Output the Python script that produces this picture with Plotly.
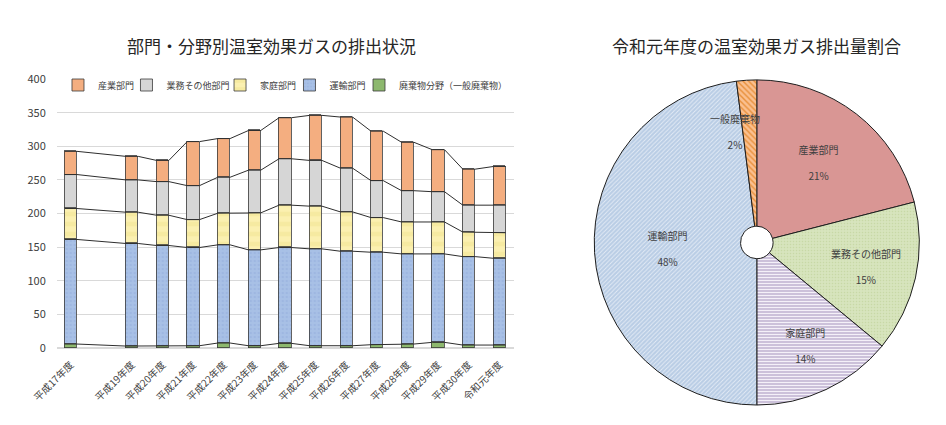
import plotly.graph_objects as go

# ---------------- data ----------------
years = ["平成17年度", "", "平成19年度", "平成20年度", "平成21年度", "平成22年度",
         "平成23年度", "平成24年度", "平成25年度", "平成26年度", "平成27年度",
         "平成28年度", "平成29年度", "平成30年度", "令和元年度"]
series_names = ["廃棄物分野（一般廃棄物）", "運輸部門", "家庭部門", "業務その他部門", "産業部門"]
waste     = [6, None, 3, 3, 3.5, 7.5, 3.5, 7, 3.5, 3.5, 5, 6, 8.5, 4.5, 4.5]
transport = [155.5, None, 152.5, 149.5, 146, 146, 142.5, 142.5, 144, 140.5, 137.5, 134, 131.5, 131.5, 129]
household = [46, None, 46.5, 45, 41.5, 47, 55, 63, 63.5, 58.5, 51.5, 47.5, 47.5, 36.5, 38]
business  = [50.5, None, 48, 50, 50.5, 53.5, 63.5, 69, 68, 65, 55, 46.5, 45, 40, 41]
industry  = [34.5, None, 35, 31.5, 65.5, 57.5, 59, 61, 67, 76, 73.5, 72, 62.5, 53.5, 57.5]

pie_labels = ["産業部門", "業務その他部門", "家庭部門", "運輸部門", "一般廃棄物"]
pie_values = [21, 15, 14, 48, 2]

bar_title = "部門・分野別温室効果ガスの排出状況"
pie_title = "令和元年度の温室効果ガス排出量割合"

# ---------------- styles ----------------
bar_colors = ["#8DB86E", "#A8C0E6", "#FBF0B0", "#D6D6D6", "#F4AE80"]
bar_patterns = [dict(shape=""), dict(shape=".", fgcolor="#93AEDB", size=4, solidity=0.3),
                dict(shape="-", fgcolor="#F2E391", size=10, solidity=0.45),
                dict(shape=""), dict(shape="")]
# legend slot (left to right) for each series and x position of each slot
legend_slot = [4, 3, 2, 1, 0]
legend_x = [0.0613, 0.1337, 0.2326, 0.3060, 0.3795]
bar_w = 0.4
pie_colors = ["#D99694", "#D7E4BD", "#CCC1DA", "#B9CDE5", "#FAC090"]
pie_patterns = dict(shape=["", ".", "-", "/", "\\"],
                    bgcolor=pie_colors,
                    fgcolor=["#D99694", "#C8D8A6", "#F4F0F8", "#E4ECF6", "#E8903A"],
                    size=[6, 3, 3, 3, 4], solidity=[0.2, 0.2, 0.35, 0.3, 0.35])

fig = go.Figure()

xs = list(range(len(years)))
series = [waste, transport, household, business, industry]
for k, vals in enumerate(series):
    slot = legend_slot[k]
    fig.add_trace(go.Bar(
        x=xs, y=vals, name=series_names[k], width=bar_w,
        marker=dict(color=bar_colors[k], pattern=bar_patterns[k],
                    line=dict(color="#3A3A3A", width=0.8)),
        legend="legend" if slot == 0 else f"legend{slot + 1}",
        xaxis="x", yaxis="y"))

# series lines connecting the cumulative tops (bar edge to bar edge)
cum = [0.0] * len(years)
for k, vals in enumerate(series):
    lx, ly = [], []
    for i, v in enumerate(vals):
        if v is None:
            continue
        cum[i] += v
        lx += [i - bar_w / 2, i + bar_w / 2]
        ly += [cum[i], cum[i]]
    fig.add_trace(go.Scatter(x=lx, y=ly, mode="lines", showlegend=False,
                             hoverinfo="skip",
                             line=dict(color="#2E2E2E", width=1)))

fig.update_layout(barmode="stack")

# pie
pie_text = ["%{label}<br><br>%{percent:.0%}"] * 4 + [""]
fig.add_trace(go.Pie(
    labels=pie_labels, values=pie_values, sort=False, direction="clockwise",
    rotation=0, hole=0.1,
    marker=dict(colors=pie_colors, pattern=pie_patterns,
                line=dict(color="#1E1E1E", width=1)),
    texttemplate=pie_text, textposition="inside", insidetextorientation="horizontal",
    textfont=dict(size=10, color="#404040", family="Noto Sans CJK JP"),
    domain=dict(x=[0.627, 0.973], y=[0.047, 0.812]),
    showlegend=False))

legend_style = dict(orientation="h", y=0.800, xanchor="left", yanchor="middle",
                    font=dict(size=9, color="#404040"), bgcolor="rgba(0,0,0,0)",
                    itemwidth=30)
legends = {("legend" if s == 0 else f"legend{s + 1}"): dict(legend_style, x=legend_x[s])
           for s in range(5)}

tick_idx = [i for i, y in enumerate(years) if y]
fig.update_layout(
    width=946, height=425,
    margin=dict(l=0, r=0, t=0, b=0),
    paper_bgcolor="white", plot_bgcolor="white",
    font=dict(family="Noto Sans CJK JP", color="#404040"),
    bargap=0,
    xaxis=dict(domain=[0.060, 0.543], range=[-0.46, 14.46], automargin=False,
               tickvals=tick_idx, ticktext=[years[i] for i in tick_idx],
               tickangle=-45, tickfont=dict(size=10, color="#404040"),
               ticklabelstandoff=8,
               showgrid=False, zeroline=False, showline=False, ticks=""),
    yaxis=dict(domain=[0.181, 0.814], range=[0, 400], dtick=50, automargin=False,
               tickfont=dict(size=11, color="#404040"),
               gridcolor="#D9D9D9", gridwidth=1, zeroline=True,
               zerolinecolor="#D9D9D9", ticks="", ticklabelstandoff=10),
    annotations=[
        dict(text=bar_title, x=0.287, y=0.894, xref="paper", yref="paper",
             xanchor="center", yanchor="middle",
             showarrow=False, font=dict(size=17, color="#262626")),
        dict(text=pie_title, x=0.800, y=0.894, xref="paper", yref="paper",
             xanchor="center", yanchor="middle",
             showarrow=False, font=dict(size=17, color="#262626")),
        dict(text=pie_labels[4] + "<br><br>" + f"{pie_values[4]}%",
             x=0.777, y=0.690, xref="paper", yref="paper",
             xanchor="center", yanchor="middle",
             showarrow=False, font=dict(size=10, color="#404040")),
    ],
    **legends,
)

fig.write_html("out.html", config={"displayModeBar": False},
               post_script="document.body.style.margin='0px';")
